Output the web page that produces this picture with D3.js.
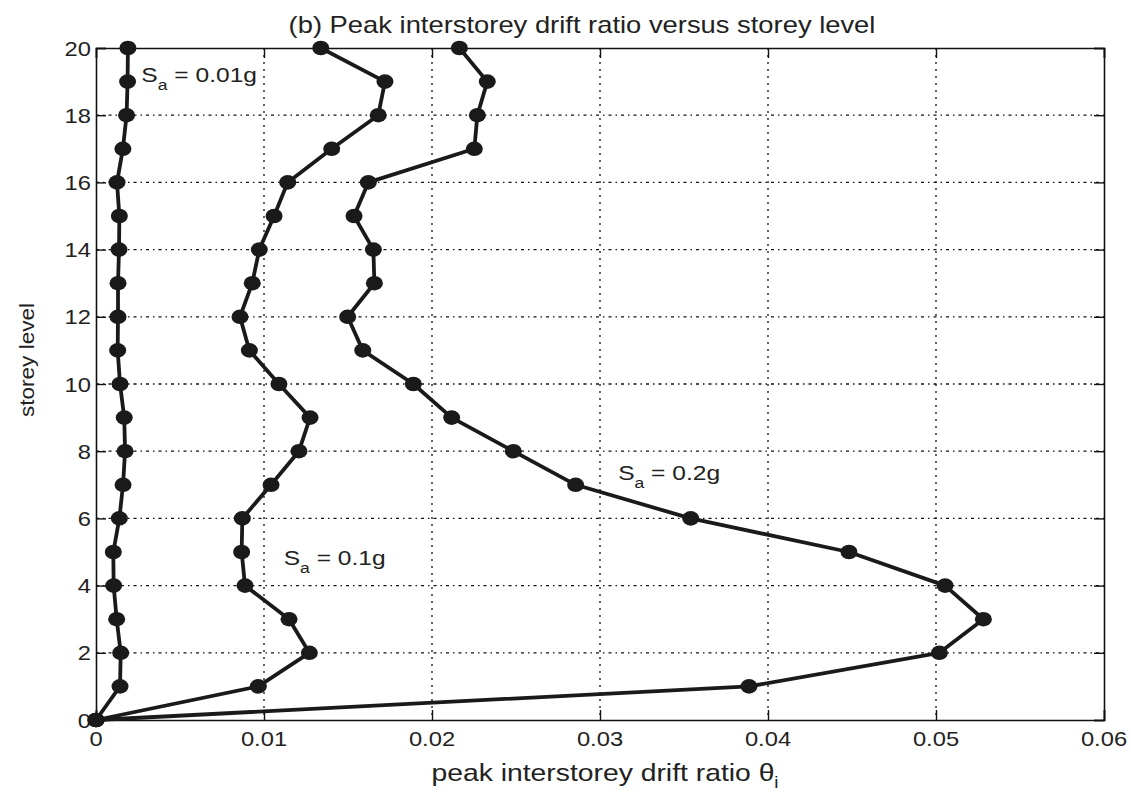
<!DOCTYPE html>
<html>
<head>
<meta charset="utf-8">
<script src="https://cdn.jsdelivr.net/npm/d3@7"></script>
<style>
  html, body { margin: 0; padding: 0; background: #fff; }
  svg { display: block; }
  text { font-family: "Liberation Sans", Arial, Helvetica, sans-serif; fill: #222; }
</style>
</head>
<body>
<svg id="chart" width="1131" height="794"></svg>
<script>
// ---- data ----
const storeys = [0,1,2,3,4,5,6,7,8,9,10,11,12,13,14,15,16,17,18,19,20];
const driftSa001 = [0,0.00143,0.00147,0.00123,0.00105,0.00103,0.00139,0.00161,0.00173,0.00168,0.00143,0.00129,0.00131,0.00131,0.00137,0.00139,0.00125,0.00160,0.00182,0.00188,0.00190];
const driftSa01  = [0,0.00966,0.01270,0.01149,0.00887,0.00867,0.00871,0.01042,0.01208,0.01274,0.01089,0.00913,0.00857,0.00930,0.00972,0.01060,0.01141,0.01403,0.01680,0.01720,0.01338];
const driftSa02  = [0,0.03887,0.05020,0.05282,0.05054,0.04482,0.03540,0.02855,0.02484,0.02117,0.01889,0.01588,0.01498,0.01657,0.01651,0.01536,0.01621,0.02252,0.02270,0.02329,0.02163];
const xTicks = [0,0.01,0.02,0.03,0.04,0.05,0.06];
const xTickLabels = ["0","0.01","0.02","0.03","0.04","0.05","0.06"];
const yTicks = [0,2,4,6,8,10,12,14,16,18,20];
const seriesLabels = [
  {name:"0.01g", x:0.00270, y:19},
  {name:"0.1g",  x:0.01117, y:4.6},
  {name:"0.2g",  x:0.03108, y:7.15}
];
const titleText = "(b) Peak interstorey drift ratio versus storey level";
const xLabelText = "peak interstorey drift ratio θ";
const yLabelText = "storey level";

// ---- layout ----
const svg = d3.select("#chart");
const L = 96, R = 1104, T = 48, B = 720;
const x = d3.scaleLinear().domain([0,0.06]).range([L,R]);
const y = d3.scaleLinear().domain([0,20]).range([B,T]);
const SX = 1.13; // horizontal stretch of glyphs in reference

function stretchedText(parent, px, py, anchor, size, sx) {
  const g = parent.append("g").attr("transform", `translate(${px},${py}) scale(${sx},1)`);
  return g.append("text").attr("text-anchor", anchor).attr("font-size", size);
}

// grid
const grid = svg.append("g");
xTicks.slice(1, -1).forEach(v => {
  grid.append("line").attr("x1", x(v)).attr("x2", x(v)).attr("y1", T).attr("y2", B)
    .attr("stroke", "#111").attr("stroke-width", 1.3).attr("stroke-dasharray", "2,5");
});
yTicks.slice(1, -1).forEach(v => {
  grid.append("line").attr("x1", L).attr("x2", R).attr("y1", y(v)).attr("y2", y(v))
    .attr("stroke", "#111").attr("stroke-width", 1.3).attr("stroke-dasharray", "3,4,1.5,4");
});

// axes with inward ticks
const xAxisB = d3.axisBottom(x).tickValues(xTicks).tickSize(-10).tickFormat(() => "");
const xAxisT = d3.axisTop(x).tickValues(xTicks).tickSize(-10).tickFormat(() => "");
const yAxisL = d3.axisLeft(y).tickValues(yTicks).tickSize(-10).tickFormat(() => "");
const yAxisR = d3.axisRight(y).tickValues(yTicks).tickSize(-10).tickFormat(() => "");
[[xAxisB, `translate(0,${B})`], [xAxisT, `translate(0,${T})`], [yAxisL, `translate(${L},0)`], [yAxisR, `translate(${R},0)`]]
  .forEach(([ax, tr]) => {
    const g = svg.append("g").attr("transform", tr).call(ax);
    g.select(".domain").attr("stroke", "#111").attr("stroke-width", 1.6);
    g.selectAll(".tick line").attr("stroke", "#111").attr("stroke-width", 1.4);
  });

// tick labels
xTicks.forEach((v, i) => {
  stretchedText(svg, x(v), 746, "middle", 21, SX).text(xTickLabels[i]);
});
yTicks.forEach(v => {
  stretchedText(svg, 91, y(v) + 7.5, "end", 21, SX).text(String(v));
});

// series
const series = [driftSa001, driftSa01, driftSa02];
const line = d3.line().x(d => x(d[0])).y(d => y(d[1]));
series.forEach(vals => {
  const pts = vals.map((v, i) => [v, storeys[i]]);
  svg.append("path").datum(pts).attr("d", line)
    .attr("fill", "none").attr("stroke", "#1a1a1a").attr("stroke-width", 3.8)
    .attr("stroke-linejoin", "round");
  svg.append("g").selectAll("ellipse").data(pts).join("ellipse")
    .attr("cx", d => x(d[0])).attr("cy", d => y(d[1]))
    .attr("rx", 8.5).attr("ry", 7.3).attr("fill", "#1a1a1a");
});

// series annotations
seriesLabels.forEach(s => {
  const t = stretchedText(svg, x(s.x), y(s.y), "start", 21, 1.17);
  t.append("tspan").text("S");
  t.append("tspan").attr("font-size", 15).attr("dy", 8).text("a");
  t.append("tspan").attr("dy", -8).text(" = " + s.name);
});

// title
stretchedText(svg, 582, 33, "middle", 23, 1.19).text(titleText);

// x label
const xl = stretchedText(svg, 605, 781, "middle", 24, 1.18);
xl.append("tspan").text(xLabelText);
xl.append("tspan").attr("font-size", 16).attr("dy", 7).text("i");

// y label
svg.append("g").attr("transform", `translate(34,360) rotate(-90) scale(${SX},1)`)
  .append("text").attr("text-anchor", "middle").attr("font-size", 20).text(yLabelText);
</script>
</body>
</html>
